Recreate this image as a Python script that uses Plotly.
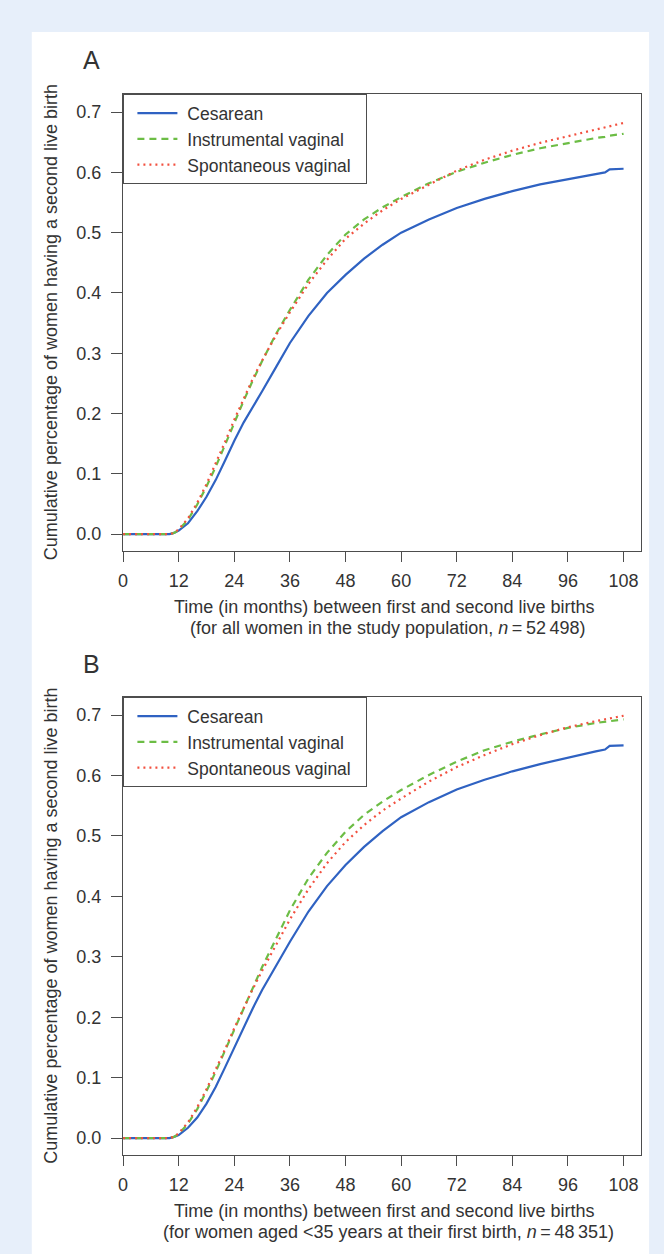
import plotly.graph_objects as go

W, H = 664, 1254

# ---------------- data ----------------
months = [0, 10, 11, 12, 14, 16, 18, 20, 22, 24, 26, 28, 30, 33, 36, 40, 44, 48,
          52, 56, 60, 66, 72, 78, 84, 90, 96, 102, 104, 105, 108]

# Panel A: all women (n = 52 498)
cesarean_A = [0, 0, 0.002, 0.006, 0.018, 0.038, 0.062, 0.09, 0.122, 0.155, 0.185,
              0.21, 0.237, 0.277, 0.317, 0.362, 0.40, 0.43, 0.457, 0.48, 0.50,
              0.522, 0.541, 0.556, 0.569, 0.58, 0.589, 0.597, 0.600, 0.605, 0.606]
instrumental_A = [0, 0, 0.002, 0.007, 0.024, 0.049, 0.079, 0.112, 0.148, 0.185, 0.221,
                  0.255, 0.287, 0.332, 0.372, 0.422, 0.463, 0.497, 0.522, 0.542, 0.559,
                  0.582, 0.601, 0.616, 0.629, 0.640, 0.649, 0.657, 0.659, 0.661, 0.664]
spontaneous_A = [0, 0, 0.002, 0.008, 0.026, 0.052, 0.083, 0.117, 0.153, 0.19, 0.225,
                 0.258, 0.288, 0.33, 0.368, 0.415, 0.455, 0.49, 0.515, 0.537, 0.556,
                 0.58, 0.603, 0.621, 0.636, 0.649, 0.66, 0.671, 0.674, 0.676, 0.682]

# Panel B: women aged <35 years at first birth (n = 48 351)
cesarean_B = [0, 0, 0.002, 0.005, 0.017, 0.034, 0.057, 0.085, 0.117, 0.15, 0.183,
              0.215, 0.245, 0.285, 0.325, 0.375, 0.417, 0.452, 0.482, 0.508, 0.531,
              0.556, 0.577, 0.593, 0.607, 0.619, 0.630, 0.640, 0.643, 0.649, 0.650]
instrumental_B = [0, 0, 0.002, 0.007, 0.024, 0.048, 0.078, 0.11, 0.145, 0.18, 0.215,
                  0.25, 0.283, 0.33, 0.377, 0.43, 0.472, 0.507, 0.535, 0.557, 0.576,
                  0.601, 0.623, 0.642, 0.656, 0.668, 0.679, 0.687, 0.689, 0.690, 0.693]
spontaneous_B = [0, 0, 0.002, 0.008, 0.026, 0.051, 0.081, 0.113, 0.147, 0.182, 0.215,
                 0.247, 0.277, 0.32, 0.362, 0.412, 0.455, 0.49, 0.518, 0.542, 0.562,
                 0.59, 0.614, 0.634, 0.652, 0.667, 0.680, 0.690, 0.693, 0.695, 0.699]

series_names = ["Cesarean", "Instrumental vaginal", "Spontaneous vaginal"]
x_ticks = [0, 12, 24, 36, 48, 60, 72, 84, 96, 108]
y_ticks = [0.0, 0.1, 0.2, 0.3, 0.4, 0.5, 0.6, 0.7]
y_title = "Cumulative percentage of women having a second live birth"
x_title_1 = "Time (in months) between first and second live births"
x_title_2_A = "(for all women in the study population, <i>n</i>\u2009=\u200952\u2009498)"
x_title_2_B = "(for women aged &lt;35 years at their first birth, <i>n</i>\u2009=\u200948\u2009351)"

# ---------------- styling ----------------
FONT = "Liberation Sans, Arial, Helvetica, sans-serif"
TXT = "#333333"
AX = "#4d4d4d"
styles = [
    dict(color="#2f62c2", width=2.2, dash="solid"),
    dict(color="#6cbd45", width=2.2, dash="7px,5px"),
    dict(color="#f2503f", width=2.2, dash="2px,4px"),
]
NB = "\u00a0"

def py(px):  # pixel row -> paper y
    return 1 - px / H

def pxx(px):  # pixel col -> paper x
    return px / W

fig = go.Figure()
for vals, nm, st in zip([cesarean_A, instrumental_A, spontaneous_A], series_names, styles):
    fig.add_trace(go.Scatter(x=months, y=vals, mode="lines", name=NB + nm + NB * 2,
                             line=st, xaxis="x", yaxis="y", legend="legend"))
for vals, nm, st in zip([cesarean_B, instrumental_B, spontaneous_B], series_names, styles):
    fig.add_trace(go.Scatter(x=months, y=vals, mode="lines", name=NB + nm + NB * 2,
                             line=st, xaxis="x2", yaxis="y2", legend="legend2"))

xdom = [pxx(119), pxx(641)]
yA = [py(551), py(94)]
yB = [py(1155), py(697)]

common_x = dict(range=[0, 111.8], tickmode="array", tickvals=x_ticks,
                ticks="outside", ticklen=10, tickwidth=1.2, tickcolor=AX,
                showline=True, linecolor=AX, linewidth=1.3, mirror=True,
                showgrid=False, zeroline=False, domain=xdom,
                tickfont=dict(family=FONT, size=18, color=TXT),
                ticklabelstandoff=3)
common_y = dict(range=[-0.028, 0.73], tickmode="array", tickvals=y_ticks,
                tickformat=".1f", ticks="outside", ticklen=11, tickwidth=1.2,
                tickcolor=AX, showline=True, linecolor=AX, linewidth=1.3,
                mirror=True, showgrid=False, zeroline=False,
                tickfont=dict(family=FONT, size=18, color=TXT),
                ticklabelstandoff=6)

legend_common = dict(xanchor="left", yanchor="top", bgcolor="white",
                     bordercolor=AX, borderwidth=1.3,
                     font=dict(family=FONT, size=17.5, color=TXT),
                     tracegroupgap=0, itemwidth=40, indentation=8)

annotations = []
for lab, ytop, ybot, lab_y, t2 in [("A", 94, 551, 60, x_title_2_A),
                                   ("B", 697, 1155, 664, x_title_2_B)]:
    annotations.append(dict(text=lab, x=pxx(87), y=py(lab_y), xref="paper", yref="paper",
                            showarrow=False, xanchor="center", yanchor="middle",
                            font=dict(family=FONT, size=25, color=TXT)))
    annotations.append(dict(text=y_title, x=pxx(46), y=py((ytop + ybot) / 2),
                            xref="paper", yref="paper", showarrow=False, textangle=-90,
                            xanchor="center", yanchor="middle",
                            font=dict(family=FONT, size=18, color=TXT)))
    annotations.append(dict(text=x_title_1, x=pxx(382), y=py(ybot + 56),
                            xref="paper", yref="paper", showarrow=False,
                            xanchor="center", yanchor="middle",
                            font=dict(family=FONT, size=18, color=TXT)))
    annotations.append(dict(text=t2, x=pxx(386), y=py(ybot + 77),
                            xref="paper", yref="paper", showarrow=False,
                            xanchor="center", yanchor="middle",
                            font=dict(family=FONT, size=18, color=TXT)))

fig.update_layout(
    width=W, height=H,
    margin=dict(l=0, r=0, t=0, b=0),
    paper_bgcolor="#e7effa",
    plot_bgcolor="white",
    font=dict(family=FONT, color=TXT),
    xaxis=dict(common_x, anchor="y"),
    yaxis=dict(common_y, domain=yA, anchor="x"),
    xaxis2=dict(common_x, anchor="y2"),
    yaxis2=dict(common_y, domain=yB, anchor="x2"),
    legend=dict(legend_common, x=pxx(119), y=py(94)),
    legend2=dict(legend_common, x=pxx(119), y=py(697)),
    shapes=[dict(type="rect", xref="paper", yref="paper", x0=pxx(27), x1=pxx(649),
                 y0=0, y1=py(32), fillcolor="white", line=dict(width=0), layer="below")],
    annotations=annotations,
    showlegend=True,
)

fig.write_html("out.html",
               config={"displayModeBar": False},
               post_script="document.body.style.margin='0';document.body.style.padding='0';"
                           "document.documentElement.style.margin='0';")
